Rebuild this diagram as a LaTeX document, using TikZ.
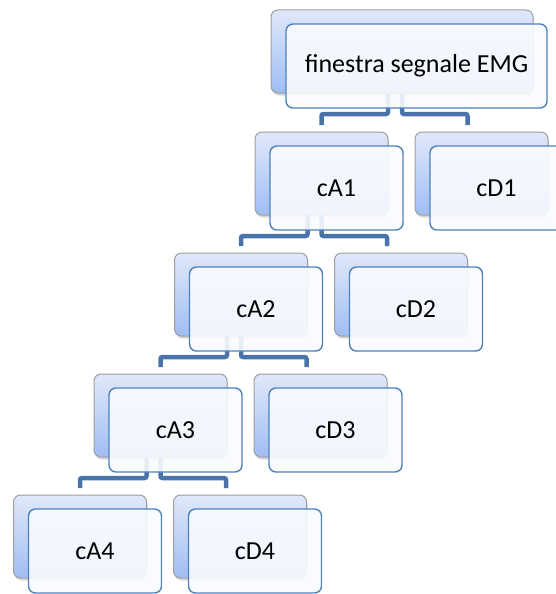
\documentclass[tikz,border=0pt]{standalone}
\usepackage{fontspec}
\setmainfont{Carlito}
\usetikzlibrary{calc,shadows}
\definecolor{linkblue}{HTML}{4A73A9}
\definecolor{frontline}{HTML}{4F81BD}
\definecolor{backtop}{HTML}{E0E8F9}
\definecolor{backbot}{HTML}{A0BDF3}
\definecolor{frontfill}{HTML}{F9FBFE}
\tikzset{
	back/.style={draw=gray!75, line width=1pt, rounded corners=7pt, top color=backtop, bottom color=backbot,
		minimum width=133pt, minimum height=83pt, anchor=north west, inner sep=0pt, outer sep=0pt,
		drop shadow={shadow xshift=1pt, shadow yshift=-2.5pt, opacity=0.3}},
	front/.style={draw=frontline, line width=1.4pt, rounded corners=7pt, fill=frontfill, fill opacity=0.9, text opacity=1,
		minimum width=133pt, minimum height=84pt, anchor=north west, inner sep=0pt, outer sep=0pt,
		font=\fontsize{26}{30}\selectfont},
	link/.style={draw=linkblue, line width=4.5pt, rounded corners=2pt}
}
\begin{document}
\begin{tikzpicture}[x=1pt,y=-1pt]
	\useasboundingbox (0,0) rectangle (555,594);
	% back boxes
	\node[back, minimum width=262pt] (b0) at (271,10) {};
	\foreach \k in {1,...,4}{
		\pgfmathsetmacro\xa{255-80.5*(\k-1)}
		\pgfmathsetmacro\ya{132+121*(\k-1)}
		\node[back] (bA\k) at (\xa,\ya) {};
		\node[back] (bD\k) at (\xa+160,\ya) {};
	}
	% connectors
	\foreach \p/\c in {b0/1,bA1/2,bA2/3,bA3/4}{
		\draw[link] ([xshift=-14pt]\p.south) -- ++(0,21) -| ([yshift=7pt]bA\c.north);
		\draw[link] (\p.south) -- ++(0,21) -| ([xshift=-14pt,yshift=7pt]bD\c.north);
	}
	% front boxes with the labels
	\node[front, minimum width=261pt] (f0) at ($(b0.north west)+(15,14)$) {finestra segnale EMG};
	\foreach \k in {1,...,4}{
		\node[front] (fA\k) at ($(bA\k.north west)+(15,14)$) {cA\k};
		\node[front] (fD\k) at ($(bD\k.north west)+(15,14)$) {cD\k};
	}
\end{tikzpicture}
\end{document}
